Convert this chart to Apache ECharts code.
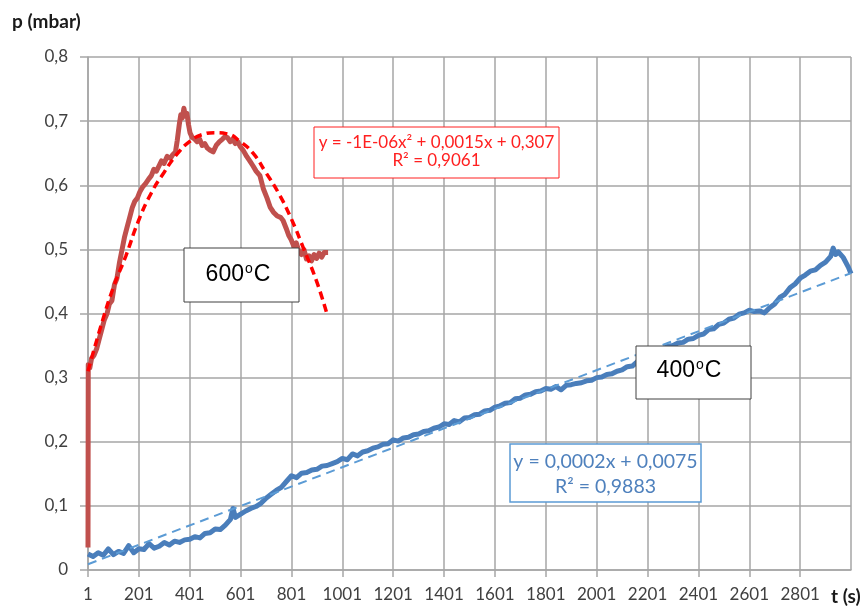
<!DOCTYPE html>
<html>
<head>
<meta charset="utf-8">
<script src="https://cdn.jsdelivr.net/npm/echarts@6/dist/echarts.min.js"></script>
<style>
html,body{margin:0;padding:0;background:#fff;}
#chart{width:865px;height:607px;}
</style>
</head>
<body>
<div id="chart"></div>
<script>
// ---- Data (t in s, p in mbar) ----
var xTickLabels = ['1','201','401','601','801','1001','1201','1401','1601','1801','2001','2201','2401','2601','2801'];
var yTickLabels = ['0','0,1','0,2','0,3','0,4','0,5','0,6','0,7','0,8'];

var red600T = [1,2,8,15,25,35,45,55,65,76,85,95,105,115,125,135,145,155,165,175,185,195,205,217,228,240,250,260,270,280,290,300,312,325,335,345,352,360,366,372,378,384,390,396,402,410,420,430,440,450,460,470,480,493,505,518,530,540,550,560,570,580,590,600,612,625,637,650,662,677,690,705,717,730,745,758,768,780,790,800,810,820,830,840,850,860,870,880,890,900,910,920,930,945];
var red600P = [0.035,0.32,0.315,0.33,0.335,0.345,0.36,0.375,0.39,0.40,0.415,0.42,0.445,0.455,0.48,0.50,0.52,0.535,0.55,0.565,0.575,0.58,0.59,0.598,0.603,0.61,0.615,0.625,0.622,0.63,0.638,0.634,0.645,0.642,0.648,0.652,0.67,0.695,0.71,0.705,0.72,0.708,0.712,0.695,0.682,0.675,0.672,0.668,0.672,0.662,0.665,0.658,0.655,0.652,0.662,0.668,0.672,0.676,0.674,0.668,0.672,0.665,0.668,0.66,0.654,0.645,0.638,0.63,0.622,0.615,0.595,0.58,0.566,0.558,0.552,0.55,0.545,0.533,0.522,0.515,0.505,0.51,0.497,0.492,0.5,0.485,0.49,0.482,0.492,0.486,0.494,0.488,0.495,0.495];

var red600FitT = [1,50,100,150,200,250,300,350,400,450,500,550,600,650,700,750,800,850,900,940];
var red600FitP = [0.31,0.378,0.44,0.49,0.545,0.588,0.62,0.648,0.668,0.679,0.682,0.68,0.668,0.65,0.62,0.588,0.548,0.5,0.45,0.40];

var blue400T = [1,21,41,61,81,101,121,141,161,181,201,221,241,261,281,301,321,341,361,381,401,421,441,461,481,501,521,541,561,571,581,601,621,641,661,681,701,721,741,761,781,801,821,841,861,881,901,921,941,961,981,1001,1021,1041,1061,1081,1101,1121,1141,1161,1181,1201,1221,1241,1261,1281,1301,1321,1341,1361,1381,1401,1421,1441,1461,1481,1501,1521,1541,1561,1581,1601,1621,1641,1661,1681,1701,1721,1741,1761,1781,1801,1821,1841,1861,1881,1901,1921,1941,1961,1981,2001,2021,2041,2061,2081,2101,2121,2141,2161,2181,2201,2221,2241,2261,2281,2301,2321,2341,2361,2381,2401,2421,2441,2461,2481,2501,2521,2541,2561,2581,2601,2621,2641,2661,2681,2701,2721,2741,2761,2781,2801,2821,2841,2861,2881,2901,2921,2931,2941,2951,2971,2991,3001];
var blue400P = [0.025,0.021,0.027,0.023,0.033,0.024,0.029,0.026,0.038,0.027,0.033,0.032,0.041,0.034,0.037,0.043,0.039,0.045,0.043,0.047,0.048,0.052,0.050,0.057,0.058,0.064,0.063,0.070,0.079,0.096,0.082,0.087,0.092,0.096,0.099,0.104,0.112,0.118,0.124,0.129,0.138,0.147,0.144,0.151,0.152,0.156,0.157,0.162,0.163,0.166,0.169,0.174,0.172,0.181,0.178,0.184,0.186,0.190,0.192,0.196,0.197,0.203,0.201,0.206,0.207,0.211,0.212,0.216,0.217,0.221,0.223,0.228,0.227,0.233,0.231,0.237,0.238,0.242,0.243,0.248,0.249,0.254,0.256,0.260,0.261,0.267,0.268,0.273,0.274,0.278,0.279,0.283,0.282,0.286,0.281,0.288,0.289,0.291,0.292,0.295,0.296,0.300,0.301,0.305,0.306,0.310,0.312,0.317,0.318,0.325,0.331,0.337,0.338,0.343,0.344,0.349,0.350,0.354,0.355,0.360,0.361,0.366,0.368,0.375,0.376,0.383,0.385,0.391,0.393,0.399,0.401,0.405,0.403,0.404,0.401,0.409,0.415,0.425,0.430,0.440,0.446,0.455,0.460,0.466,0.468,0.475,0.480,0.489,0.502,0.492,0.496,0.487,0.472,0.462];

var blue400FitT = [1,3001];
var blue400FitP = [0.009,0.463];

var redEquation = ['y = -1E-06x² + 0,0015x + 0,307','R² = 0,9061'];
var blueEquation = ['y = 0,0002x + 0,0075','R² = 0,9883'];

function pairs(ts, ps){
  var out = [];
  for (var i = 0; i < ts.length; i++) out.push([ts[i] - 1, ps[i]]);
  return out;
}

var chart = echarts.init(document.getElementById('chart'), null, {renderer:'canvas'});
var gridColor = '#a6a6a6';
var labelFont = 'Lato, "Open Sans", sans-serif';

chart.setOption({
  animation: false,
  backgroundColor: '#ffffff',
  grid: {left: 88, right: 14, top: 57, bottom: 37, containLabel: false},
  xAxis: {
    type: 'value', min: 0, max: 3000, interval: 200,
    axisLine: {show: true, lineStyle: {color: gridColor, width: 1.5}},
    axisTick: {show: true, length: 7, lineStyle: {color: gridColor, width: 1.5}},
    splitLine: {show: true, lineStyle: {color: gridColor, width: 1.5}},
    axisLabel: {
      showMaxLabel: false, margin: 16, color: '#404040', fontSize: 17, fontFamily: labelFont,
      formatter: function(v){ var i = Math.round(v/200); return xTickLabels[i] !== undefined ? xTickLabels[i] : ''; }
    }
  },
  yAxis: {
    type: 'value', min: 0, max: 0.8, interval: 0.1,
    axisLine: {show: true, lineStyle: {color: gridColor, width: 1.5}},
    axisTick: {show: true, length: 8, lineStyle: {color: gridColor, width: 1.5}},
    splitLine: {show: true, lineStyle: {color: gridColor, width: 1.5}},
    axisLabel: {
      margin: 20, color: '#404040', fontSize: 17, fontFamily: labelFont,
      formatter: function(v){ var i = Math.round(v*10); return yTickLabels[i] !== undefined ? yTickLabels[i] : ''; }
    }
  },
  series: [
    {type: 'line', name: '400°C', data: pairs(blue400T, blue400P), showSymbol: false, symbol: 'none',
     lineStyle: {color: '#4a7ebb', width: 5, join: 'round'}, z: 2},
    {type: 'line', name: '400°C fit', data: pairs(blue400FitT, blue400FitP), showSymbol: false, symbol: 'none',
     lineStyle: {color: '#5b9bd5', width: 2, type: [9, 6]}, z: 3},
    {type: 'line', name: '600°C', data: pairs(red600T, red600P), showSymbol: false, symbol: 'none',
     lineStyle: {color: '#c0504d', width: 5, join: 'round'}, z: 4},
    {type: 'line', name: '600°C fit', data: pairs(red600FitT, red600FitP), showSymbol: false, symbol: 'none', smooth: true,
     lineStyle: {color: '#ff0000', width: 3.5, type: [8, 5]}, z: 5}
  ],
  graphic: [
    {type: 'text', left: 12, top: 12, z: 100,
     style: {text: 'p (mbar)', font: 'bold 19px ' + labelFont, fill: '#1a1a1a'}},
    {type: 'text', left: 831, top: 587, z: 100,
     style: {text: 't (s)', font: 'bold 19px ' + labelFont, fill: '#1a1a1a'}},
    // red equation box
    {type: 'rect', shape: {x: 314, y: 127, width: 245, height: 51}, z: 100,
     style: {fill: '#ffffff', stroke: '#ff2020', lineWidth: 1}},
    {type: 'text', x: 436.5, y: 152, z: 101,
     style: {text: redEquation.join('\n'), font: '17px ' + labelFont, fill: '#ff2020', align: 'center', verticalAlign: 'middle', lineHeight: 18}},
    // blue equation box
    {type: 'rect', shape: {x: 510, y: 444, width: 191, height: 58}, z: 100,
     style: {fill: '#ffffff', stroke: '#5b9bd5', lineWidth: 1.5}},
    {type: 'text', x: 605.5, y: 474, z: 101,
     style: {text: blueEquation.join('\n'), font: '19.5px ' + labelFont, fill: '#4f81bd', align: 'center', verticalAlign: 'middle', lineHeight: 25}},
    // 600°C label box
    {type: 'rect', shape: {x: 184, y: 248, width: 115, height: 54}, z: 100,
     style: {fill: '#ffffff', stroke: '#404040', lineWidth: 1}},
    {type: 'text', x: 238, y: 275, z: 101,
     style: {text: '{n|600}{s|o}{n|C}', align: 'center', verticalAlign: 'middle',
       rich: {n: {font: '23px "Liberation Sans", Arial, sans-serif', fill: '#000', lineHeight: 26},
              s: {font: '14px "Liberation Sans", Arial, sans-serif', fill: '#000', lineHeight: 26, verticalAlign: 'top', padding: [0,1,12,1]}}}},
    // 400°C label box
    {type: 'rect', shape: {x: 636, y: 346, width: 115, height: 53}, z: 100,
     style: {fill: '#ffffff', stroke: '#404040', lineWidth: 1}},
    {type: 'text', x: 689, y: 371, z: 101,
     style: {text: '{n|400}{s|o}{n|C}', align: 'center', verticalAlign: 'middle',
       rich: {n: {font: '23px "Liberation Sans", Arial, sans-serif', fill: '#000', lineHeight: 26},
              s: {font: '14px "Liberation Sans", Arial, sans-serif', fill: '#000', lineHeight: 26, verticalAlign: 'top', padding: [0,1,12,1]}}}}
  ]
});
</script>
</body>
</html>
